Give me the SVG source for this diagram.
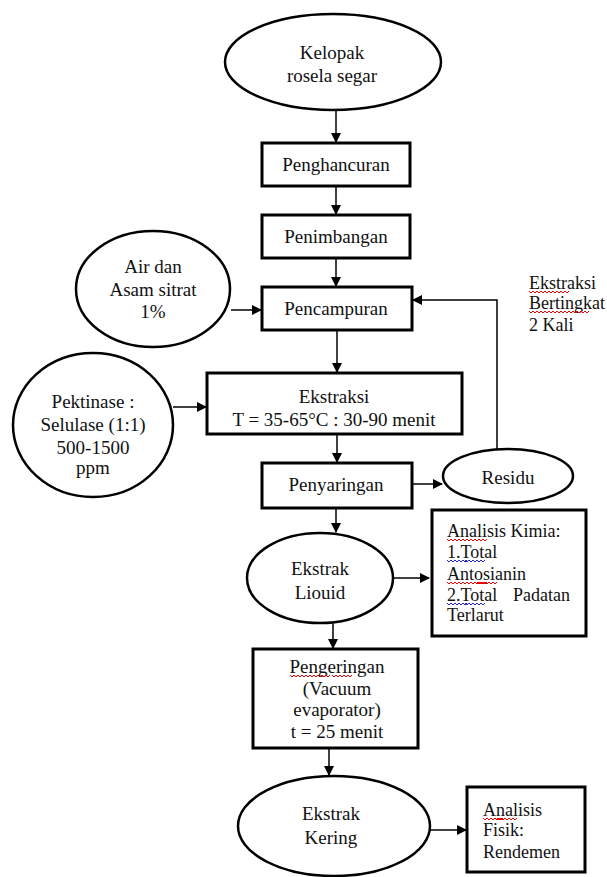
<svg xmlns="http://www.w3.org/2000/svg" width="607" height="877" viewBox="0 0 607 877">
<style>
text{font-family:"Liberation Serif","Times New Roman",serif;font-size:19px;fill:#111}
.s{font-size:18px}
.c{text-anchor:middle}
.box{fill:#fff;stroke:#000;stroke-width:3}
.ell{fill:#fff;stroke:#000;stroke-width:2.5}
.ln{fill:none;stroke:#000;stroke-width:1.5}
.wr{fill:none;stroke:#e00;stroke-width:1}
.wb{fill:none;stroke:#22c;stroke-width:1}
</style>
<defs>
<marker id="ah" markerWidth="10" markerHeight="10" refX="9" refY="5" orient="auto" markerUnits="userSpaceOnUse">
<path d="M0,0 L10,5 L0,10 z" fill="#000"/>
</marker>
<path id="wave" d="M0,0 l2,2 l2,-2 l2,2 l2,-2 l2,2 l2,-2 l2,2 l2,-2 l2,2 l2,-2"/>
</defs>
<g id="connectors">
<path class="ln" d="M336,110 V142" marker-end="url(#ah)"/>
<path class="ln" d="M336,186 V214" marker-end="url(#ah)"/>
<path class="ln" d="M336,258 V286" marker-end="url(#ah)"/>
<path class="ln" d="M231,310 H261" marker-end="url(#ah)"/>
<path class="ln" d="M337,330 V372" marker-end="url(#ah)"/>
<path class="ln" d="M173,407 H206" marker-end="url(#ah)"/>
<path class="ln" d="M337,434 V462" marker-end="url(#ah)"/>
<path class="ln" d="M412,484 H442" marker-end="url(#ah)"/>
<path class="ln" d="M497,449 V300 H413" marker-end="url(#ah)"/>
<path class="ln" d="M336,508 V532" marker-end="url(#ah)"/>
<path class="ln" d="M392,578 H429" marker-end="url(#ah)"/>
<path class="ln" d="M333,622 V648" marker-end="url(#ah)"/>
<path class="ln" d="M329,748 V775" marker-end="url(#ah)"/>
<path class="ln" d="M430,830 H466" marker-end="url(#ah)"/>
</g>
<g id="kelopak">
<ellipse class="ell" cx="333" cy="62" rx="108" ry="48"/>
<text class="c" x="332" y="59">Kelopak</text>
<text class="c" x="332" y="82">rosela segar</text>
</g>
<g id="penghancuran">
<rect class="box" x="262" y="143" width="148" height="43"/>
<text class="c" x="336" y="171">Penghancuran</text>
</g>
<g id="penimbangan">
<rect class="box" x="262" y="215" width="148" height="43"/>
<text class="c" x="336" y="243">Penimbangan</text>
</g>
<g id="air">
<ellipse class="ell" cx="153" cy="289" rx="77" ry="58"/>
<text class="c" x="153" y="273">Air dan</text>
<text class="c" x="153" y="296">Asam sitrat</text>
<text class="c" x="153" y="318">1%</text>
</g>
<g id="pencampuran">
<rect class="box" x="262" y="287" width="150" height="43"/>
<text class="c" x="336" y="315">Pencampuran</text>
</g>
<g id="label-bertingkat">
<text class="s" x="529" y="289">Ekstraksi</text>
<text class="s" x="529" y="309">Bertingkat</text>
<text class="s" x="529" y="331">2 Kali</text>
<use href="#wave" class="wr" x="529" y="291"/>
<use href="#wave" class="wr" x="549" y="291"/>
<use href="#wave" class="wr" x="529" y="311"/>
<use href="#wave" class="wr" x="549" y="311"/>
<use href="#wave" class="wr" x="569" y="311"/>
</g>
<g id="pektinase">
<ellipse class="ell" cx="93" cy="425" rx="80" ry="72"/>
<text class="c" x="93" y="408">Pektinase :</text>
<text class="c" x="93" y="431">Selulase (1:1)</text>
<text class="c" x="93" y="454">500-1500</text>
<text class="c" x="93" y="474">ppm</text>
</g>
<g id="ekstraksi">
<rect class="box" x="207" y="373" width="255" height="61"/>
<text class="c" x="334" y="403">Ekstraksi</text>
<text class="c" x="334" y="426">T = 35-65°C : 30-90 menit</text>
</g>
<g id="penyaringan">
<rect class="box" x="262" y="463" width="150" height="45"/>
<text class="c" x="336" y="491">Penyaringan</text>
</g>
<g id="residu">
<ellipse class="ell" cx="508" cy="476" rx="65" ry="27"/>
<text class="c" x="508" y="484">Residu</text>
</g>
<g id="ekstrak-liquid">
<ellipse class="ell" cx="320" cy="578" rx="73" ry="45"/>
<text class="c" x="320" y="575">Ekstrak</text>
<text class="c" x="320" y="599">Liouid</text>
</g>
<g id="analisis-kimia">
<rect class="box" x="432" y="510" width="154" height="126"/>
<text class="s" x="447" y="537">Analisis Kimia:</text>
<text class="s" x="447" y="558">1.Total</text>
<text class="s" x="447" y="580">Antosianin</text>
<text class="s" x="447" y="601">2.Total</text>
<text class="s" x="513" y="601">Padatan</text>
<text class="s" x="447" y="621">Terlarut</text>
<use href="#wave" class="wr" x="447" y="539"/>
<use href="#wave" class="wr" x="467" y="539"/>
<use href="#wave" class="wb" x="447" y="560"/>
<use href="#wave" class="wb" x="465" y="560"/>
<use href="#wave" class="wr" x="447" y="582"/>
<use href="#wave" class="wr" x="467" y="582"/>
<use href="#wave" class="wr" x="477" y="582"/>
<use href="#wave" class="wb" x="447" y="603"/>
<use href="#wave" class="wb" x="465" y="603"/>
</g>
<g id="pengeringan">
<rect class="box" x="253" y="649" width="165" height="99"/>
<text class="c" x="337" y="673">Pengeringan</text>
<text class="c" x="337" y="695">(Vacuum</text>
<text class="c" x="337" y="716">evaporator)</text>
<text class="c" x="337" y="738">t = 25 menit</text>
<use href="#wave" class="wr" x="290" y="675"/>
<use href="#wave" class="wr" x="310" y="675"/>
<use href="#wave" class="wr" x="332" y="675"/>
</g>
<g id="ekstrak-kering">
<ellipse class="ell" cx="334" cy="826" rx="96" ry="50"/>
<text class="c" x="331" y="820">Ekstrak</text>
<text class="c" x="331" y="844">Kering</text>
</g>
<g id="analisis-fisik">
<rect class="box" x="467" y="787" width="118" height="85"/>
<text class="s" x="483" y="816">Analisis</text>
<text class="s" x="483" y="836">Fisik:</text>
<text class="s" x="483" y="858">Rendemen</text>
<use href="#wave" class="wr" x="483" y="818"/>
<use href="#wave" class="wr" x="497" y="818"/>
</g>
</svg>
